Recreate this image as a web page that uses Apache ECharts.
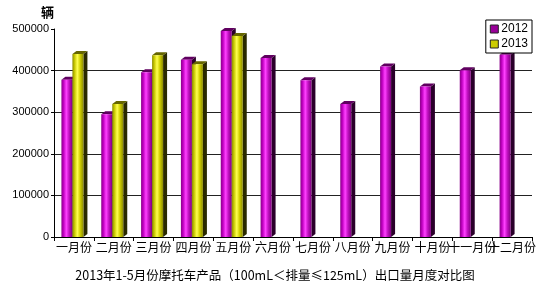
<!DOCTYPE html>
<html>
<head>
<meta charset="utf-8">
<script src="https://cdn.jsdelivr.net/npm/echarts@6/dist/echarts.min.js"></script>
<style>html,body{margin:0;padding:0;background:#fff}#c{width:550px;height:282px}</style>
</head>
<body>
<div id="c"></div>
<script>
const categories = ['一月份','二月份','三月份','四月份','五月份','六月份','七月份','八月份','九月份','十月份','十一月份','十二月份'];
const values2012 = [378000, 295000, 396000, 426000, 495000, 430000, 377000, 320000, 410000, 362000, 401000, 438000];
const values2013 = [440000, 320000, 437000, 415000, 483000];
const yTicks = [0, 100000, 200000, 300000, 400000, 500000];

const chart = echarts.init(document.getElementById('c'), null, {renderer: 'canvas'});

function make3D(offset, front, side, top) {
  return function (params, api) {
    const cat = api.value(0), val = api.value(1);
    const base = api.coord([cat, 0]);
    const t = api.coord([cat, val]);
    const w = 11, dx = 4, dy = 3;
    const x0 = base[0] + offset, x1 = x0 + w;
    const yb = base[1], yt = t[1];
    return {
      type: 'group',
      children: [
        {type: 'polygon', shape: {points: [[x1, yt], [x1 + dx, yt - dy], [x1 + dx, yb - dy], [x1, yb]]}, style: {fill: side}},
        {type: 'polygon', shape: {points: [[x0, yt], [x0 + dx, yt - dy], [x1 + dx, yt - dy], [x1, yt]]}, style: {fill: top}},
        {type: 'rect', shape: {x: x0, y: yt, width: w, height: yb - yt}, style: {fill: {type: 'linear', x: 0, y: 0, x2: 1, y2: 0, colorStops: front}}}
      ]
    };
  };
}

const purpleFront = [
  {offset: 0, color: '#8a008a'}, {offset: 0.2, color: '#c000c0'}, {offset: 0.45, color: '#ff40ff'},
  {offset: 0.7, color: '#c010c0'}, {offset: 1, color: '#800080'}
];
const yellowFront = [
  {offset: 0, color: '#8a8a00'}, {offset: 0.2, color: '#c8c800'}, {offset: 0.45, color: '#ffff50'},
  {offset: 0.7, color: '#d0d000'}, {offset: 1, color: '#8a8a00'}
];

chart.setOption({
  animation: false,
  grid: {left: 54, right: 18, top: 29, bottom: 45},
  legend: {
    data: ['2012', '2013'], orient: 'vertical', right: 18, top: 20,
    padding: [3, 4], itemGap: 3, itemWidth: 8, itemHeight: 8, icon: 'rect',
    borderColor: '#000', borderWidth: 1, backgroundColor: '#fff', z: 10,
    itemStyle: {borderColor: '#222', borderWidth: 1},
    textStyle: {fontFamily: 'Liberation Sans', fontSize: 12, color: '#000', padding: [0, 0, 0, -2]}
  },
  title: {
    text: '2013年1-5月份摩托车产品（100mL＜排量≤125mL）出口量月度对比图',
    left: 'center', top: 264,
    textStyle: {fontFamily: 'Noto Sans CJK SC', fontSize: 12.5, fontWeight: 'normal', color: '#000'}
  },
  xAxis: {
    type: 'category', data: categories,
    axisLine: {lineStyle: {color: '#000', width: 1}},
    axisTick: {show: true, length: 4, lineStyle: {color: '#000'}},
    axisLabel: {interval: 0, margin: 4, fontFamily: 'Noto Sans CJK SC', fontSize: 12, color: '#000'}
  },
  yAxis: {
    type: 'value', min: yTicks[0], max: yTicks[yTicks.length - 1], interval: yTicks[1] - yTicks[0],
    name: '辆', nameLocation: 'end', nameGap: 10,
    nameTextStyle: {fontFamily: 'Noto Sans CJK SC', fontSize: 13, fontWeight: 'bold', color: '#000', align: 'right', padding: [0, 0, 0, 0]},
    axisLine: {show: true, lineStyle: {color: '#000', width: 1}},
    axisTick: {show: true, length: 3, lineStyle: {color: '#000'}},
    axisLabel: {margin: 5, fontFamily: 'Liberation Sans', fontSize: 11, color: '#000', formatter: v => String(v)},
    splitLine: {show: true, lineStyle: {color: ['#000', '#222', '#222', '#222', '#222', 'rgba(0,0,0,0)'], width: 1}}
  },
  series: [
    {name: '2012', type: 'custom', itemStyle: {color: '#990099'},
     renderItem: make3D(-12.5, purpleFront, '#2a002a', '#600060'),
     data: values2012.map((v, i) => [i, v]), encode: {x: 0, y: 1}},
    {name: '2013', type: 'custom', itemStyle: {color: '#cccc00'},
     renderItem: make3D(-1.5, yellowFront, '#2a2a00', '#666600'),
     data: values2013.map((v, i) => [i, v]), encode: {x: 0, y: 1}}
  ]
});
</script>
</body>
</html>
